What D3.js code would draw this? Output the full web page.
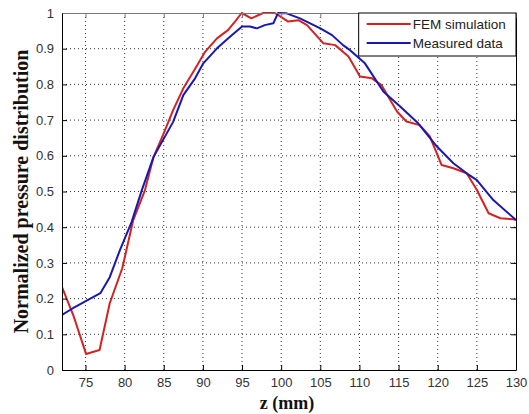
<!DOCTYPE html>
<html>
<head>
<meta charset="utf-8">
<script src="https://cdn.jsdelivr.net/npm/d3@7"></script>
<style>
  body { margin: 0; background: #fff; }
  svg { display: block; }
</style>
</head>
<body>
<div id="chart"></div>
<script>
// -----------
// DATOS
// -----------
const femZ = [72, 73.5, 75.07, 76.8, 78.1, 79.7, 81.1, 82.6, 83.7, 84.9, 86.2, 87.5, 88.8, 90.3, 91.8, 93.2, 94.1, 94.95, 96.2, 97.7, 99.2, 100.9, 102.2, 103.3, 105.4, 106.9, 108.6, 110.07, 111.6, 112.8, 114.8, 116, 117.7, 119, 120.5, 122, 123.7, 125, 126.5, 128, 129.7, 130];
const femV = [0.232, 0.15, 0.045, 0.056, 0.187, 0.285, 0.42, 0.504, 0.597, 0.658, 0.728, 0.789, 0.836, 0.892, 0.929, 0.952, 0.976, 1.0, 0.985, 1.0, 1.0, 0.976, 0.98, 0.966, 0.915, 0.91, 0.878, 0.822, 0.817, 0.798, 0.724, 0.696, 0.686, 0.654, 0.574, 0.565, 0.551, 0.504, 0.439, 0.425, 0.422, 0.42];

const medZ = [72, 73.4, 76.9, 78.1, 79.4, 80.9, 82.2, 83.7, 86.2, 87.5, 89, 90.05, 91.8, 93.5, 95, 96, 96.9, 97.9, 99, 99.6, 100.7, 102.4, 103.7, 105, 106.5, 107.9, 108.8, 110.7, 113.05, 115.2, 117.5, 119.9, 122, 123.7, 125, 127.1, 130];
const medV = [0.154, 0.173, 0.215, 0.26, 0.336, 0.415, 0.504, 0.597, 0.695, 0.77, 0.817, 0.859, 0.901, 0.934, 0.962, 0.962, 0.957, 0.966, 0.971, 1.0, 0.999, 0.985, 0.971, 0.957, 0.938, 0.91, 0.896, 0.859, 0.78, 0.738, 0.691, 0.626, 0.579, 0.551, 0.532, 0.476, 0.42];

const xTicks = [75, 80, 85, 90, 95, 100, 105, 110, 115, 120, 125, 130];
const yTicks = [0, 0.1, 0.2, 0.3, 0.4, 0.5, 0.6, 0.7, 0.8, 0.9, 1];

const series = [
  { nombre: 'FEM simulation', z: femZ, v: femV, color: '#d42222' },
  { nombre: 'Measured data', z: medZ, v: medV, color: '#1818b0' },
];

// -----------
// GRAFICA
// -----------
const width = 529, height = 414;
const margin = { top: 13, right: 13, bottom: 44, left: 62 };
const iw = width - margin.left - margin.right;
const ih = height - margin.top - margin.bottom;

const svg = d3.select('#chart').append('svg')
  .attr('width', width)
  .attr('height', height);

const g = svg.append('g')
  .attr('transform', `translate(${margin.left},${margin.top})`);

const x = d3.scaleLinear().domain([72, 130]).range([0, iw]);
const y = d3.scaleLinear().domain([0, 1]).range([ih, 0]);

// grid punteado
g.append('g').selectAll('line.gx')
  .data(xTicks.filter(t => t < 130))
  .join('line')
  .attr('x1', d => x(d)).attr('x2', d => x(d))
  .attr('y1', 0).attr('y2', ih)
  .attr('stroke', '#333').attr('stroke-width', 1)
  .attr('stroke-dasharray', '1,3');

g.append('g').selectAll('line.gy')
  .data(yTicks.filter(t => t > 0 && t < 1))
  .join('line')
  .attr('x1', 0).attr('x2', iw)
  .attr('y1', d => y(d)).attr('y2', d => y(d))
  .attr('stroke', '#333').attr('stroke-width', 1)
  .attr('stroke-dasharray', '1,3');

// curvas
const linea = d3.line().x(d => x(d[0])).y(d => y(d[1]));
g.append('defs').append('clipPath').attr('id', 'clip')
  .append('rect').attr('x', 0).attr('y', -1).attr('width', iw).attr('height', ih + 1);

series.forEach(s => {
  g.append('path')
    .datum(s.z.map((z, i) => [z, s.v[i]]))
    .attr('d', linea)
    .attr('fill', 'none')
    .attr('stroke', s.color)
    .attr('stroke-width', 2)
    .attr('stroke-linejoin', 'round')
    .attr('clip-path', 'url(#clip)');
});

// ejes (ticks hacia dentro)
const fontTicks = 'Liberation Sans, Arial, sans-serif';
const ax = g.append('g').attr('transform', `translate(0,${ih})`)
  .call(d3.axisBottom(x).tickValues(xTicks).tickSize(-5).tickPadding(8).tickSizeOuter(0));
const ay = g.append('g')
  .call(d3.axisLeft(y).tickValues(yTicks).tickSize(-5).tickPadding(8).tickSizeOuter(0)
    .tickFormat(d => d === 0 ? '0' : d === 1 ? '1' : d3.format('.1f')(d)));
const ayR = g.append('g').attr('transform', `translate(${iw},0)`)
  .call(d3.axisRight(y).tickValues(yTicks).tickSize(-5).tickFormat('').tickSizeOuter(0));
const axT = g.append('g')
  .call(d3.axisTop(x).tickValues(xTicks).tickSize(-5).tickFormat('').tickSizeOuter(0));

[ax, ay, ayR, axT].forEach(a => {
  a.selectAll('text').attr('font-family', fontTicks).attr('font-size', 13).attr('fill', '#333');
  a.selectAll('line').attr('stroke', '#000');
  a.select('.domain').attr('stroke', '#000');
});
axT.select('.domain').attr('stroke', '#777');
axT.selectAll('line').attr('stroke', '#777');

// etiquetas de ejes
svg.append('text')
  .attr('x', 287)
  .attr('y', 409)
  .attr('text-anchor', 'middle')
  .attr('font-family', 'Liberation Serif, Times New Roman, serif')
  .attr('font-weight', 'bold')
  .attr('font-size', 18)
  .attr('fill', '#111')
  .text('z (mm)');

svg.append('text')
  .attr('transform', `translate(28,${margin.top + ih / 2}) rotate(-90)`)
  .attr('text-anchor', 'middle')
  .attr('font-family', 'Liberation Serif, Times New Roman, serif')
  .attr('font-weight', 'bold')
  .attr('font-size', 20)
  .attr('fill', '#111')
  .text('Normalized pressure distribution');

// leyenda
const lx = x(109.9), lw = iw - lx;
const leg = g.append('g').attr('transform', `translate(${lx},0)`);
leg.append('rect')
  .attr('width', lw).attr('height', 43)
  .attr('fill', '#fff').attr('stroke', '#000').attr('stroke-width', 1);
series.forEach((s, i) => {
  const ly = 11 + i * 19;
  leg.append('line')
    .attr('x1', 8).attr('x2', 52)
    .attr('y1', ly).attr('y2', ly)
    .attr('stroke', s.color).attr('stroke-width', 2);
  leg.append('text')
    .attr('x', 54).attr('y', ly + 4.5)
    .attr('font-family', fontTicks)
    .attr('font-size', 13.5)
    .attr('fill', '#222')
    .text(s.nombre);
});
</script>
</body>
</html>
